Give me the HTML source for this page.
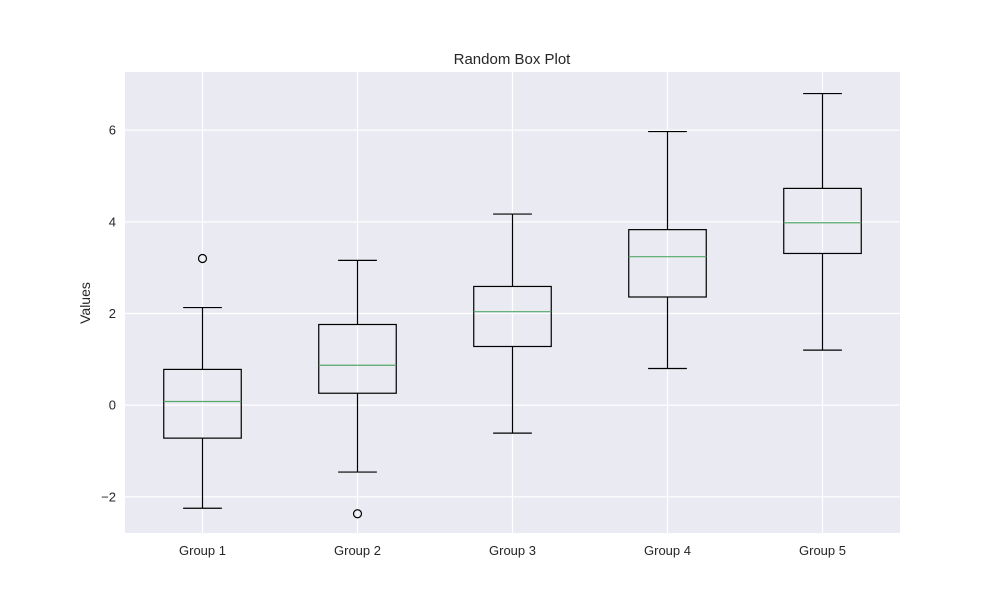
<!DOCTYPE html>
<html><head><meta charset="utf-8"><style>
body{margin:0;background:#fff;font-family:"Liberation Sans",sans-serif;}
</style></head><body>
<svg id="chart" width="1000" height="600" xmlns="http://www.w3.org/2000/svg">
<rect width="1000" height="600" fill="#fff"/>
<rect x="125" y="72" width="775" height="461" fill="#eaeaf2"/>
<g id="grid"></g><g id="boxes"></g><g id="ticks"></g>
<text x="512" y="64" text-anchor="middle" font-size="15" fill="#262626">Random Box Plot</text>
<text transform="translate(90,303) rotate(-90)" text-anchor="middle" font-size="14" fill="#262626">Values</text>
</svg>
<script>
const categories=["Group 1","Group 2","Group 3","Group 4","Group 5"];
const whiskerLow=[-2.25,-1.46,-0.61,0.8,1.2];
const q1=[-0.72,0.26,1.28,2.36,3.31];
const median=[0.08,0.87,2.04,3.24,3.98];
const q3=[0.78,1.76,2.59,3.83,4.73];
const whiskerHigh=[2.13,3.16,4.17,5.97,6.8];
const outliers=[[3.2],[-2.37],[],[],[]];
const yTicks=[-2,0,2,4,6];
const yMin=-2.79,yMax=7.27;
const NS="http://www.w3.org/2000/svg";
const X0=125,X1=900,Y0=72,Y1=533;
const xs=i=>X0+(i+1-0.5)/categories.length*(X1-X0);
const ys=v=>Y1-(v-yMin)/(yMax-yMin)*(Y1-Y0);
function mk(t,a,p){const e=document.createElementNS(NS,t);for(const k in a)e.setAttribute(k,a[k]);p.appendChild(e);return e;}
const grid=document.getElementById('grid'),boxes=document.getElementById('boxes'),ticks=document.getElementById('ticks');
yTicks.forEach(t=>{const y=ys(t);
 const l=mk('line',{x1:X0,x2:X1,y1:y,y2:y,stroke:'#fff','stroke-width':1.2},grid);
 
 
 const tx=mk('text',{x:116,y:y+4.5,'text-anchor':'end','font-size':13,fill:'#262626'},ticks);
 tx.textContent=(t<0?'\u2212'+(-t):t);
 
 
});
categories.forEach((c,i)=>{const x=xs(i);
 const l=mk('line',{x1:x,x2:x,y1:Y0,y2:Y1,stroke:'#fff','stroke-width':1.2},grid);
 
 
 const tx=mk('text',{x:x,y:555,'text-anchor':'middle','font-size':13,fill:'#262626'},ticks);
 tx.textContent=c;
 
 
 const g=mk('g',{},boxes);
 
 
 const bw=77.5,cw=38.75,s={stroke:'#000','stroke-width':1.2,fill:'none'};
 mk('line',Object.assign({x1:x,x2:x,y1:ys(q1[i]),y2:ys(whiskerLow[i])},s),g);
 mk('line',Object.assign({x1:x,x2:x,y1:ys(q3[i]),y2:ys(whiskerHigh[i])},s),g);
 mk('line',Object.assign({x1:x-cw/2,x2:x+cw/2,y1:ys(whiskerLow[i]),y2:ys(whiskerLow[i])},s),g);
 mk('line',Object.assign({x1:x-cw/2,x2:x+cw/2,y1:ys(whiskerHigh[i]),y2:ys(whiskerHigh[i])},s),g);
 mk('rect',Object.assign({x:x-bw/2,width:bw,y:ys(q3[i]),height:ys(q1[i])-ys(q3[i])},s),g);
 mk('line',{x1:x-bw/2,x2:x+bw/2,y1:ys(median[i]),y2:ys(median[i]),stroke:'#55a868','stroke-width':1.2},g);
 outliers[i].forEach(o=>{const ci=mk('circle',{cx:x,cy:ys(o),r:4,fill:'none',stroke:'#000','stroke-width':1.2},g);
  
  });
});
</script>
</body></html>
